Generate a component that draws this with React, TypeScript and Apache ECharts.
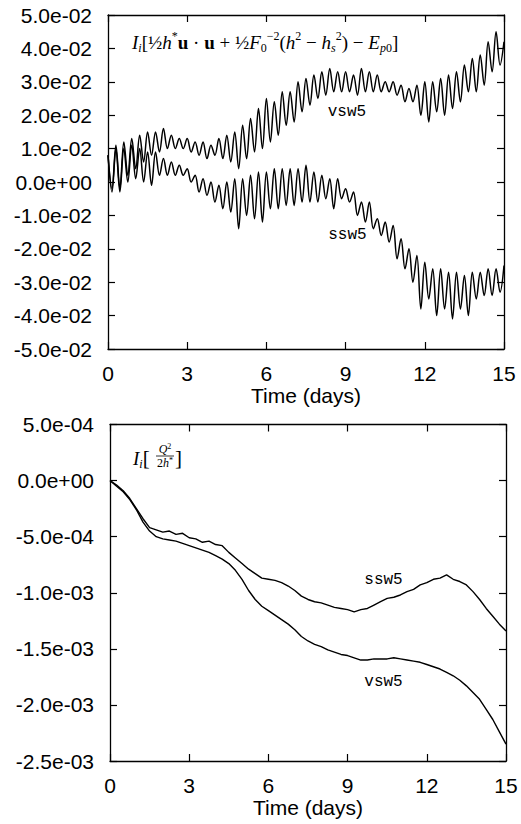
import React, { useEffect, useRef } from "react";
import * as echarts from "echarts";

// ---------- DATA ----------
// Top panel: sampled every 0.15 days from 0 to 15
const TOP_STEP = 0.15;
const topVsw5 = [
  0.008, -0.002, 0.011, -0.002, 0.012, 0.002, 0.013, 0.004, 0.014, 0.006,
  0.015, 0.008, 0.015, 0.009, 0.016, 0.010, 0.014, 0.010, 0.013, 0.010,
  0.013, 0.009, 0.012, 0.008, 0.012, 0.007, 0.011, 0.008, 0.013, 0.007,
  0.014, 0.006, 0.015, 0.004, 0.017, 0.007, 0.019, 0.009, 0.022, 0.010,
  0.025, 0.012, 0.024, 0.014, 0.027, 0.017, 0.027, 0.018, 0.030, 0.021,
  0.031, 0.023, 0.032, 0.025, 0.033, 0.026, 0.034, 0.027, 0.033, 0.027,
  0.033, 0.027, 0.032, 0.026, 0.034, 0.027, 0.033, 0.027, 0.032, 0.027,
  0.030, 0.027, 0.030, 0.026, 0.029, 0.024, 0.028, 0.024, 0.029, 0.020,
  0.030, 0.018, 0.030, 0.021, 0.031, 0.020, 0.032, 0.022, 0.033, 0.024,
  0.035, 0.027, 0.037, 0.027, 0.038, 0.029, 0.042, 0.033, 0.045, 0.035,
  0.042,
];
const topSsw5 = [
  0.008, -0.003, 0.010, -0.003, 0.010, 0.000, 0.011, 0.001, 0.010, 0.000,
  0.009, -0.001, 0.009, 0.002, 0.007, 0.002, 0.006, 0.002, 0.005, 0.002,
  0.004, 0.000, 0.002, -0.003, 0.001, -0.004, 0.000, -0.006, -0.001, -0.008,
  0.000, -0.009, 0.001, -0.014, 0.001, -0.010, 0.002, -0.011, 0.003, -0.012,
  0.003, -0.008, 0.004, -0.008, 0.004, -0.007, 0.004, -0.007, 0.004, -0.006,
  0.005, -0.006, 0.003, -0.006, 0.002, -0.005, 0.001, -0.008, 0.001, -0.005,
  -0.002, -0.006, -0.003, -0.010, -0.006, -0.012, -0.006, -0.014, -0.011, -0.016,
  -0.012, -0.018, -0.013, -0.023, -0.017, -0.026, -0.020, -0.030, -0.022, -0.038,
  -0.024, -0.035, -0.026, -0.040, -0.026, -0.038, -0.027, -0.041, -0.027, -0.038,
  -0.028, -0.040, -0.027, -0.035, -0.027, -0.034, -0.026, -0.034, -0.026, -0.033,
  -0.025,
];

// Bottom panel: sampled every 0.25 days from 0 to 15
const BOT_STEP = 0.25;
const botSsw5 = [
  0.0, -0.00004, -0.00009, -0.00016, -0.00025, -0.00034, -0.00042, -0.00044,
  -0.00046, -0.00045, -0.00048, -0.00047, -0.00051, -0.00052, -0.00055, -0.00054,
  -0.00057, -0.00058, -0.00064, -0.00069, -0.00074, -0.00079, -0.00083, -0.00087,
  -0.00088, -0.00089, -0.00091, -0.00094, -0.00098, -0.00103, -0.00106, -0.00108,
  -0.00109, -0.00111, -0.00113, -0.00114, -0.00115, -0.00117, -0.00115, -0.00114,
  -0.00111, -0.00108, -0.00105, -0.00104, -0.00102, -0.00099, -0.00097, -0.00093,
  -0.00091, -0.00088, -0.00087, -0.00084, -0.00088, -0.0009, -0.00093, -0.00099,
  -0.00106, -0.00114, -0.00121, -0.00128, -0.00134,
];
const botVsw5 = [
  0.0, -0.00005, -0.0001, -0.00017, -0.00026, -0.00037, -0.00045, -0.0005,
  -0.00052, -0.00053, -0.00054, -0.00056, -0.00058, -0.0006, -0.00062, -0.00064,
  -0.00067, -0.0007, -0.00074, -0.0008, -0.00088, -0.00098, -0.00106, -0.00112,
  -0.00116, -0.0012, -0.00124, -0.00128, -0.00133, -0.00139, -0.00143, -0.00146,
  -0.00148, -0.00151, -0.00153, -0.00155, -0.00156, -0.00158, -0.0016, -0.0016,
  -0.00159, -0.00159, -0.00159, -0.00158, -0.00159, -0.0016, -0.00161, -0.00162,
  -0.00164, -0.00166, -0.00168, -0.00171, -0.00174, -0.00178, -0.00183, -0.00189,
  -0.00195, -0.00204, -0.00213, -0.00224, -0.00235,
];

const X_MIN = 0;
const X_MAX = 15;
const X_INTERVAL = 3;
const TOP_Y = { min: -0.05, max: 0.05, interval: 0.01 };
const BOT_Y = { min: -0.0025, max: 0.0005, interval: 0.0005 };
const X_NAME = "Time (days)";

// label anchors (data coordinates)
const topLabels = [
  { name: "vsw5", coord: [9.05, 0.021] },
  { name: "ssw5", coord: [9.07, -0.0159] },
];
const botLabels = [
  { name: "ssw5", coord: [10.36, -0.000886] },
  { name: "vsw5", coord: [10.36, -0.001793] },
];

// ---------- HELPERS ----------
const fmtExp = (v: number) => {
  if (Math.abs(v) < 1e-12) return "0.0e+00";
  const [m, e] = v.toExponential(1).split("e");
  const en = parseInt(e, 10);
  return `${m}e${en < 0 ? "-" : "+"}${String(Math.abs(en)).padStart(2, "0")}`;
};

const SANS = "Liberation Sans, Arial, Helvetica, sans-serif";
const SERIF = "Liberation Serif, Times New Roman, serif";
const MONO = "Liberation Mono, Courier New, monospace";

const lineCol = "#000";

function xAxes(gridIndex: number) {
  const base = {
    gridIndex,
    type: "value",
    min: X_MIN,
    max: X_MAX,
    interval: X_INTERVAL,
    splitLine: { show: false },
    axisLine: { show: true, onZero: false, lineStyle: { color: lineCol, width: 1.3 } },
    axisTick: { show: true, inside: true, length: 7, lineStyle: { color: lineCol, width: 1.2 } },
  };
  return [
    {
      ...base,
      position: "bottom",
      axisLabel: { show: true, color: "#000", fontSize: 21, fontFamily: SANS, margin: 14 },
      name: X_NAME,
      nameLocation: "middle",
      nameGap: 35,
      nameTextStyle: { color: "#000", fontSize: 21, fontFamily: SANS },
    },
    { ...base, position: "top", axisLabel: { show: false } },
  ];
}

function yAxes(gridIndex: number, r: { min: number; max: number; interval: number }) {
  const base = {
    gridIndex,
    type: "value",
    min: r.min,
    max: r.max,
    interval: r.interval,
    splitLine: { show: false },
    axisLine: { show: true, onZero: false, lineStyle: { color: lineCol, width: 1.3 } },
    axisTick: { show: true, inside: true, length: 7, lineStyle: { color: lineCol, width: 1.2 } },
  };
  return [
    {
      ...base,
      position: "left",
      axisLabel: {
        show: true,
        color: "#000",
        fontSize: 21,
        fontFamily: SANS,
        margin: 16,
        formatter: (v: number) => fmtExp(v),
      },
    },
    { ...base, position: "right", axisLabel: { show: false } },
  ];
}

function lineSeries(
  name: string,
  values: number[],
  step: number,
  xAxisIndex: number,
  yAxisIndex: number,
  width: number,
  smooth: number | boolean,
  label: { name: string; coord: number[] }
) {
  return {
    name,
    type: "line",
    xAxisIndex,
    yAxisIndex,
    data: values.map((v, i) => [+(i * step).toFixed(3), v]),
    symbol: "none",
    showSymbol: false,
    smooth,
    lineStyle: { color: "#000", width },
    itemStyle: { color: "#000" },
    silent: true,
    markPoint: {
      symbol: "circle",
      symbolSize: 0,
      silent: true,
      label: {
        show: true,
        position: "inside",
        formatter: label.name,
        color: "#000",
        fontFamily: MONO,
        fontSize: 16,
      },
      data: [{ coord: label.coord, value: 0 }],
    },
  };
}

const FS = 19;
const SFS = 12;
const richBase = {
  n: { fontFamily: SERIF, fontSize: FS, lineHeight: 24, color: "#000" },
  I: { fontFamily: SERIF, fontSize: FS, lineHeight: 24, color: "#000", fontStyle: "italic" },
  b: { fontFamily: SERIF, fontSize: FS, lineHeight: 24, color: "#000", fontWeight: "bold" },
  sub: { fontFamily: SERIF, fontSize: SFS, lineHeight: 13, color: "#000", verticalAlign: "bottom" },
  subI: {
    fontFamily: SERIF,
    fontSize: SFS,
    lineHeight: 13,
    color: "#000",
    fontStyle: "italic",
    verticalAlign: "bottom",
  },
  sup: { fontFamily: SERIF, fontSize: SFS, lineHeight: 13, color: "#000", verticalAlign: "top" },
};

const topFormula =
  "{I|I}{subI|i}{n|[}{n|½}{I|h}{sup|*}{b|u}{n| · }{b|u}{n| + }{n|½}{I|F}{sub|0}{sup|−2}{n|(}{I|h}{sup|2}{n| − }{I|h}{subI|s}{sup|2}{n|) − }{I|E}{subI|p}{sub|0}{n|]}";

export default function App() {
  const ref = useRef<HTMLDivElement>(null);
  useEffect(() => {
    if (!ref.current) return;
    const chart = echarts.init(ref.current, null, { renderer: "svg" });
    const option = {
      animation: false,
      backgroundColor: "#fff",
      grid: [
        { left: 108, top: 15, width: 396, height: 334, containLabel: false },
        { left: 110, top: 424.5, width: 396, height: 336.5, containLabel: false },
      ],
      xAxis: [...xAxes(0), ...xAxes(1)],
      yAxis: [...yAxes(0, TOP_Y), ...yAxes(1, BOT_Y)],
      series: [
        lineSeries("vsw5", topVsw5, TOP_STEP, 0, 0, 1.5, 0.35, topLabels[0]),
        lineSeries("ssw5", topSsw5, TOP_STEP, 0, 0, 1.5, 0.35, topLabels[1]),
        lineSeries("ssw5b", botSsw5, BOT_STEP, 2, 2, 1.4, false, botLabels[0]),
        lineSeries("vsw5b", botVsw5, BOT_STEP, 2, 2, 1.4, false, botLabels[1]),
      ],
      graphic: [
        {
          type: "text",
          x: 132,
          y: 42,
          silent: true,
          style: { text: topFormula, rich: richBase, align: "left", verticalAlign: "middle" },
        },
        {
          type: "text",
          x: 133,
          y: 458,
          silent: true,
          style: {
            text: "{I|I}{subI|i}{br|[}",
            rich: { ...richBase, br: { fontFamily: SERIF, fontSize: 21, lineHeight: 24, color: "#000" } },
            align: "left",
            verticalAlign: "middle",
          },
        },
        {
          type: "text",
          x: 165,
          y: 449,
          silent: true,
          style: {
            text: "{I|Q}{sup|2}",
            rich: {
              I: { fontFamily: SERIF, fontSize: 12, lineHeight: 14, fontStyle: "italic", color: "#000" },
              sup: { fontFamily: SERIF, fontSize: 8, lineHeight: 9, verticalAlign: "top", color: "#000" },
            },
            align: "center",
            verticalAlign: "middle",
          },
        },
        {
          type: "line",
          silent: true,
          shape: { x1: 156, y1: 456, x2: 174, y2: 456 },
          style: { stroke: "#000", lineWidth: 0.8 },
        },
        {
          type: "text",
          x: 165,
          y: 463,
          silent: true,
          style: {
            text: "{n|2}{I|h}{sup|*}",
            rich: {
              n: { fontFamily: SERIF, fontSize: 12, lineHeight: 14, color: "#000" },
              I: { fontFamily: SERIF, fontSize: 12, lineHeight: 14, fontStyle: "italic", color: "#000" },
              sup: { fontFamily: SERIF, fontSize: 8, lineHeight: 9, verticalAlign: "top", color: "#000" },
            },
            align: "center",
            verticalAlign: "middle",
          },
        },
        {
          type: "text",
          x: 175,
          y: 458,
          silent: true,
          style: {
            text: "]",
            fontFamily: SERIF,
            fontSize: 21,
            fill: "#000",
            align: "left",
            verticalAlign: "middle",
          },
        },
      ],
    };
    chart.setOption(option as any);
    return () => chart.dispose();
  }, []);
  return (
    <div
      ref={ref}
      style={{ position: "absolute", left: 0, top: 0, width: 521, height: 824, background: "#fff" }}
    />
  );
}
